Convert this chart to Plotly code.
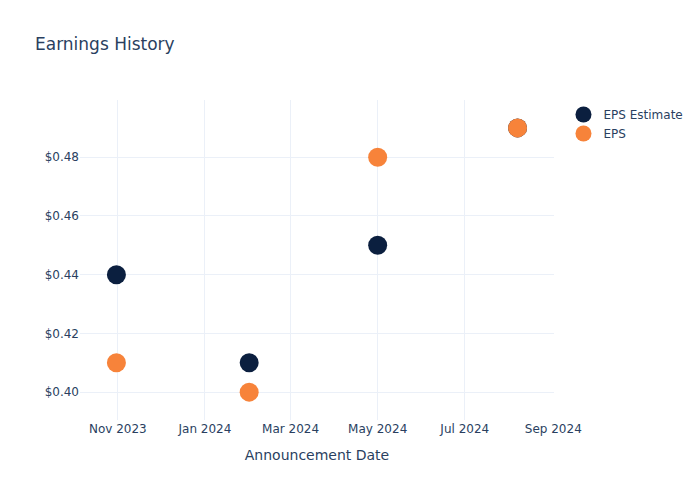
import plotly.graph_objects as go

dates = ["2023-10-31", "2024-02-01", "2024-05-01", "2024-08-07"]
eps_estimate = [0.44, 0.41, 0.45, 0.49]
eps_actual = [0.41, 0.40, 0.48, 0.49]

fig = go.Figure()
fig.add_trace(go.Scatter(x=dates, y=eps_estimate, mode="markers", name="EPS Estimate",
                         marker=dict(color="#0B1F3F", size=19)))
fig.add_trace(go.Scatter(x=dates, y=eps_actual, mode="markers", name="EPS",
                         marker=dict(color="#F7833A", size=19)))
fig.update_layout(
    template="plotly_white",
    width=700, height=500,
    font=dict(family="DejaVu Sans"),
    title=dict(text="Earnings History"),
    xaxis=dict(title=dict(text="Announcement Date"),
               range=["2023-10-05 12:00", "2024-09-01 12:00"]),
    yaxis=dict(tickprefix="$", tickformat=".2f"),
)
fig.write_html("out.html")
